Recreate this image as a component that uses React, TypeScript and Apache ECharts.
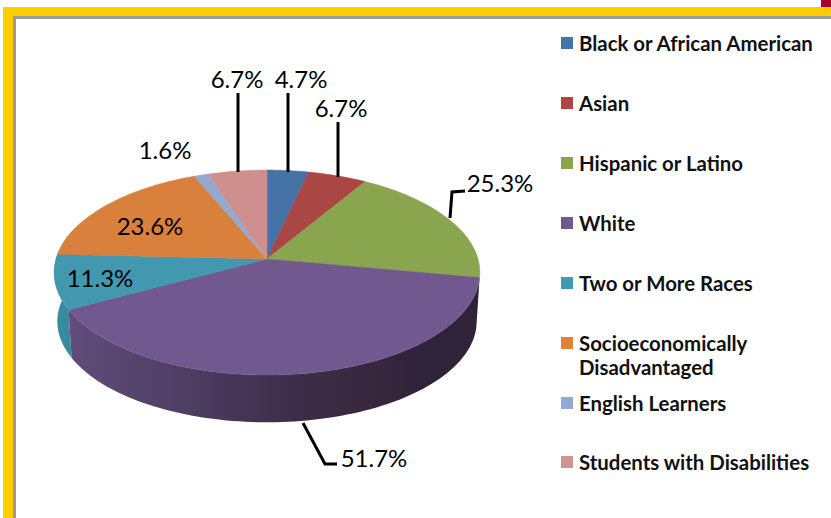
import React, { useEffect, useRef } from "react";
import * as echarts from "echarts";

const categories = [
  "Black or African American",
  "Asian",
  "Hispanic or Latino",
  "White",
  "Two or More Races",
  "Socioeconomically Disadvantaged",
  "English Learners",
  "Students with Disabilities",
];
const values = [4.7, 6.7, 25.3, 51.7, 11.3, 23.6, 1.6, 6.7];
const colors = ["#4572A7", "#AA4643", "#89A54E", "#71588F", "#4198AF", "#DB843D", "#93A9CF", "#D19392"];
const topColors = ["#4572A7", "#AA4643", "#89A54E", "#71588F", "#4198AF", "#D9803C", "#93A9CF", "#CF8F8E"];
const legendCenters = [43, 103, 163, 223, 283, 343, 403, 462];
const labelPositions = [
  [301, 78],
  [341, 107],
  [500, 182],
  [374, 457],
  [100, 277],
  [150, 225],
  [165, 149],
  [237, 78],
];
const leaderLines = [
  [[288, 93], [288, 172]],
  [[338, 122], [338, 177]],
  [[450, 218], [452, 192], [465, 191]],
  [[303, 423], [325, 464], [337, 464]],
  null,
  null,
  null,
  [[238, 93], [238, 172]],
];
const wallStops: Record<number, [number, string][]> = {
  3: [
    [0, "#604C7A"],
    [0.32, "#4B3C60"],
    [0.54, "#3D2E49"],
    [0.73, "#38283E"],
    [0.87, "#2E2339"],
    [1, "#2E2339"],
  ],
  4: [
    [0, "#3A8CA3"],
    [1, "#33869C"],
  ],
};
const wallOverrun: Record<number, number> = { 4: 18 };

const FONT = "Lato, 'Open Sans', sans-serif";
const CX = 267;
const CY = 259;
const RX = 211;
const SY = 100.7;
const K = 0.132;
const DROP = 49;
const BOTTOM_SCALE = 0.985;
const total = values.reduce((a, b) => a + b, 0);

function project(deg: number, scale = 1, drop = 0): number[] {
  const t = (deg * Math.PI) / 180;
  const u = Math.sin(t);
  const v = -Math.cos(t);
  const w = 1 - K * v;
  return [CX + (scale * RX * u) / w, CY + drop + (scale * SY * v) / w];
}

function arc(a0: number, a1: number, scale = 1, drop = 0): number[][] {
  const pts: number[][] = [];
  const n = Math.max(2, Math.ceil((a1 - a0) / 1.5));
  for (let i = 0; i <= n; i++) pts.push(project(a0 + ((a1 - a0) * i) / n, scale, drop));
  return pts;
}

function sliceRange(i: number): [number, number] {
  let before = 0;
  for (let j = 0; j < i; j++) before += values[j];
  return [(before / total) * 360, ((before + values[i]) / total) * 360];
}

function makeRenderItem(i: number) {
  return () => {
    const [a0, a1] = sliceRange(i);
    const children: any[] = [];
    const w0 = Math.max(a0, 90);
    const w1 = a1 + (wallOverrun[i] || 0);
    if (wallStops[i]) {
      const pts = [...arc(w0, w1), ...arc(w0, w1, BOTTOM_SCALE, DROP).reverse()];
      children.push({
        type: "polygon",
        shape: { points: pts },
        z2: i === 4 ? 0 : 1,
        silent: true,
        style: {
          fill: new echarts.graphic.LinearGradient(
            0, 0, 1, 0,
            wallStops[i].map(([offset, color]) => ({ offset, color }))
          ),
          stroke: "none",
        },
      });
    }
    children.push({
      type: "polygon",
      shape: { points: [[CX, CY], ...arc(a0, a1)] },
      z2: 10,
      silent: true,
      style: { fill: topColors[i], stroke: topColors[i], lineWidth: 0.5 },
    });
    return { type: "group", children };
  };
}

function legendText(name: string) {
  return name === "Socioeconomically Disadvantaged" ? "Socioeconomically" : name;
}

export default function App() {
  const ref = useRef<HTMLDivElement>(null);
  useEffect(() => {
    document.body.style.margin = "0";
    const chart = echarts.init(ref.current!, null, { renderer: "svg" });
    const legendStyle = {
      fontFamily: FONT,
      fontWeight: "bold" as const,
      fontSize: 20.4,
      color: "#111",
      lineHeight: 20,
      padding: [0, 0, 6, 1],
    };
    const graphic: any[] = [
      { type: "rect", shape: { x: 3, y: 7, width: 828, height: 9 }, style: { fill: "#FFCC00" }, z: 0 },
      { type: "rect", shape: { x: 3, y: 7, width: 10, height: 511 }, style: { fill: "#FFCC00" }, z: 0 },
      { type: "rect", shape: { x: 13, y: 16, width: 818, height: 3 }, style: { fill: "#9A9A9A" }, z: 0 },
      { type: "rect", shape: { x: 13, y: 16, width: 3, height: 502 }, style: { fill: "#9A9A9A" }, z: 0 },
      { type: "rect", shape: { x: 821, y: 0, width: 10, height: 7 }, style: { fill: "#A6002C" }, z: 0 },
      {
        type: "text",
        x: 579,
        y: 367,
        z: 100,
        style: { text: "Disadvantaged", font: `bold 20.4px ${FONT}`, fill: "#111", verticalAlign: "middle" },
      },
    ];
    values.forEach((v, i) => {
      const line = leaderLines[i];
      if (line) {
        graphic.push({
          type: "polyline",
          shape: { points: line },
          z: 90,
          style: { stroke: "#000", lineWidth: 3, fill: "none" },
        });
      }
      graphic.push({
        type: "text",
        x: labelPositions[i][0],
        y: labelPositions[i][1],
        z: 100,
        style: {
          text: `${v.toFixed(1)}%`,
          font: `24px ${FONT}`,
          fill: "#000",
          align: "center",
          verticalAlign: "middle",
        },
      });
    });
    chart.setOption({
      animation: false,
      backgroundColor: "#fff",
      tooltip: { show: false },
      legend: categories.map((name, i) => ({
        data: [name],
        left: 561,
        top: legendCenters[i] - 13,
        padding: 0,
        icon: "rect",
        itemWidth: 12,
        itemHeight: 12,
        itemGap: 6,
        selectedMode: false,
        textStyle: legendStyle,
        formatter: legendText,
      })),
      graphic,
      series: categories.map((name, i) => ({
        type: "custom",
        name,
        coordinateSystem: "none",
        itemStyle: { color: colors[i] },
        data: [[values[i]]],
        silent: true,
        renderItem: makeRenderItem(i),
      })),
    });
    return () => chart.dispose();
  }, []);
  return <div ref={ref} style={{ width: 831, height: 518 }} />;
}
